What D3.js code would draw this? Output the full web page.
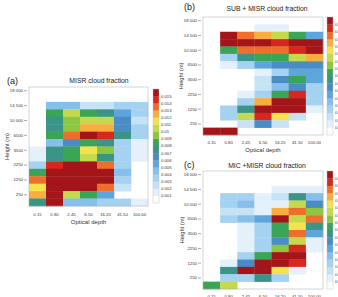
<!DOCTYPE html>
<head>
  <meta charset="utf-8">
  <script src="https://d3js.org/d3.v7.min.js"></script>
  <style>
    body { margin: 0; background: #fff; }
    svg { display: block; font-family: "Liberation Sans", Arial, sans-serif; }
    .tick text { fill: #333; }
    .tick line { stroke: #555; stroke-width: 0.5; }
  </style>
</head>
<body>
<div id="chart"></div>
<script>

  // optical depth bins (x) and height bins (y, every other bin is labelled)
  var tauLabels = ["0.15", "0.80", "2.45", "6.50", "16.20", "41.50", "100.00"];
  var heightRows = [1, 3, 5, 7, 9, 11, 13, 15];
  var heightLabels = ["250", "1250", "2250", "3500", "6500", "10 000", "14 500", "18 000"];

  // colour levels, cloud fraction in units of 1e-3
  var levels = [1, 2, 3, 4, 5, 6, 7, 8, 9, 10, 11, 12, 13, 14, 15];
  var cbLabelsA = ["0.001", "0.002", "0.003", "0.004", "0.005", "0.006", "0.007", "0.008",
                   "0.009", "0.01", "0.011", "0.012", "0.013", "0.014", "0.015"];
  var cbLabelsB = ["0.002", "0.004", "0.006", "0.008", "0.010", "0.012", "0.014", "0.016",
                   "0.018", "0.020", "0.022", "0.024", "0.026", "0.028", "0.030"];
  var cbLabelsC = ["0.001", "0.002", "0.003", "0.004", "0.005", "0.006", "0.007", "0.008",
                   "0.009", "0.010", "0.011", "0.012", "0.013", "0.014", "0.015"];
  var palette = ["#ffffff", "#e4f1fa", "#c6e3f6", "#a6d2f1", "#86bfeb", "#5fa5dd", "#4a8cc6", "#3a9488",
                 "#3aa556", "#8ec63f", "#c4da4c", "#f5e24c", "#f8ae3e", "#ee6e2c", "#d6281f", "#a31519"];

  // cloud fraction per cell (1e-3), rows from the top bin (18 000 m) down to the lowest
  var misrA = [
    [0, 0, 0, 0, 0, 0, 0],
    [0, 0, 0, 0, 0, 0, 0],
    [0, 4.5, 4.5, 2.5, 2.5, 3.5, 3.5],
    [0, 8.5, 10.5, 8.5, 7.5, 5.5, 3.5],
    [0, 7.5, 9.5, 10.5, 10.5, 6.5, 2.5],
    [0, 7.5, 9.5, 12.5, 12.5, 6.5, 3.5],
    [0, 8.5, 13.5, 15.5, 14.5, 7.5, 3.5],
    [0, 4.5, 6.5, 8.5, 7.5, 3.5, 1.5],
    [1.5, 7.5, 8.5, 11.5, 9.5, 3.5, 1.5],
    [1.5, 7.5, 8.5, 10.5, 7.5, 3.5, 1.5],
    [3.5, 14.5, 15.5, 15.5, 13.5, 3.5, 0],
    [8.5, 15.5, 15.5, 15.5, 15.5, 4.5, 0],
    [13.5, 15.5, 15.5, 15.5, 15.5, 3.5, 0],
    [11.5, 15.5, 15.5, 15.5, 13.5, 2.5, 0],
    [12.5, 15.5, 10.5, 8.5, 5.5, 0, 0],
    [7.5, 15.5, 4.5, 4.5, 3.5, 3.5, 1.5]
  ];
  var subB = [
    [0, 0, 0, 0, 0, 0, 0],
    [0, 0, 0, 1.5, 1.5, 0, 0],
    [0, 15.5, 13.5, 12.5, 10.5, 8.5, 5.5],
    [0, 15.5, 15.5, 15.5, 14.5, 15.5, 15.5],
    [0, 8.5, 13.5, 13.5, 13.5, 14.5, 15.5],
    [0, 3.5, 7.5, 8.5, 8.5, 10.5, 12.5],
    [0, 1.5, 3.5, 5.5, 6.5, 6.5, 6.5],
    [0, 0, 0, 1.5, 3.5, 5.5, 5.5],
    [0, 0, 0, 2.5, 6.5, 8.5, 5.5],
    [0, 0, 0, 2.5, 4.5, 6.5, 3.5],
    [0, 0, 1.5, 3.5, 8.5, 14.5, 3.5],
    [0, 0, 3.5, 12.5, 15.5, 15.5, 3.5],
    [0, 3.5, 7.5, 15.5, 15.5, 15.5, 1.5],
    [0, 3.5, 10.5, 14.5, 11.5, 2.5, 0],
    [0, 0, 2.5, 6.5, 2.5, 0, 0],
    [15.5, 15.5, 0, 0, 0, 0, 0]
  ];
  var micC = [
    [0, 0, 0, 0, 0, 0, 0],
    [0, 0, 0, 0, 0, 0, 0],
    [0, 0, 0, 0, 1.5, 1.5, 1.5],
    [0, 3.5, 3.5, 1.5, 2.5, 7.5, 4.5],
    [0, 3.5, 4.5, 1.5, 1.5, 10.5, 6.5],
    [0, 2.5, 2.5, 1.5, 12.5, 13.5, 9.5],
    [0, 3.5, 4.5, 5.5, 15.5, 10.5, 13.5],
    [0, 0, 1.5, 3.5, 8.5, 11.5, 7.5],
    [0, 0, 1.5, 3.5, 8.5, 13.5, 5.5],
    [0, 0, 1.5, 3.5, 6.5, 10.5, 1.5],
    [0, 0, 1.5, 3.5, 9.5, 14.5, 1.5],
    [0, 0, 3.5, 8.5, 15.5, 15.5, 0],
    [0, 1.5, 6.5, 15.5, 15.5, 14.5, 0],
    [0, 7.5, 15.5, 15.5, 11.5, 1.5, 0],
    [0, 3.5, 3.5, 7.5, 3.5, 0, 0],
    [8.5, 10.5, 0, 0, 0, 0, 0]
  ];

  var panels = [
    { tag: "(a)", title: "MISR cloud fraction", data: misrA, cbLabels: cbLabelsA,
      x0: 29, x1: 148, y0: 87, y1: 206, tagX: 7, tagY: 84, titleX: 99, titleY: 83,
      ylabX: 7, xlabY: 224, xPad: 6.5, cbX: 153, cbY0: 89, cbY1: 203 },
    { tag: "(b)", title: "SUB + MISR cloud fraction", data: subB, cbLabels: cbLabelsB,
      x0: 203, x1: 323, y0: 17, y1: 135, tagX: 184, tagY: 10, titleX: 267, titleY: 11,
      ylabX: 181, xlabY: 152, xPad: 5.5, cbX: 327, cbY0: 17, cbY1: 135 },
    { tag: "(c)", title: "MIC +MISR cloud fraction", data: micC, cbLabels: cbLabelsC,
      x0: 203, x1: 323, y0: 171, y1: 289, tagX: 184, tagY: 168, titleX: 267, titleY: 167.5,
      ylabX: 182, xlabY: 306, xPad: 5.5, cbX: 327, cbY0: 171, cbY1: 289 }
  ];

  var svg = d3.select("#chart")
    .append("svg")
    .attr("width", 338)
    .attr("height", 297);

  var color = d3.scaleThreshold()
    .domain(levels)
    .range(palette);

  function drawPanel(p) {
    var g = svg.append("g");

    var x = d3.scaleBand().domain(d3.range(7)).range([p.x0, p.x1]);
    var y = d3.scaleBand().domain(d3.range(16)).range([p.y1, p.y0]);

    // flatten the grid into cells
    var cells = [];
    p.data.forEach(function (row, i) {
      row.forEach(function (v, c) {
        cells.push({ col: c, row: 15 - i, value: v });
      });
    });

    g.selectAll("rect.cell")
      .data(cells.filter(function (d) { return d.value > 0; }))
      .enter()
      .append("rect")
      .attr("class", "cell")
      .attr("x", function (d) { return x(d.col); })
      .attr("y", function (d) { return y(d.row); })
      .attr("width", x.bandwidth() + 0.3)
      .attr("height", y.bandwidth() + 0.3)
      .attr("fill", function (d) { return color(d.value); });

    // frame
    g.append("rect")
      .attr("x", p.x0).attr("y", p.y0)
      .attr("width", p.x1 - p.x0).attr("height", p.y1 - p.y0)
      .attr("fill", "none").attr("stroke", "#aaa").attr("stroke-width", 0.5);

    // y axis
    var yAxis = g.append("g")
      .attr("transform", "translate(" + (p.x0 - 2) + ",0)")
      .call(d3.axisLeft(y)
        .tickValues(heightRows)
        .tickFormat(function (d, i) { return heightLabels[i]; })
        .tickSize(3)
        .tickPadding(1));
    yAxis.select(".domain").remove();
    yAxis.selectAll("text").style("font-size", "4.3px");

    // x axis
    var xAxis = g.append("g")
      .attr("transform", "translate(0," + p.y1 + ")")
      .call(d3.axisBottom(x)
        .tickFormat(function (d) { return tauLabels[d]; })
        .tickSize(0)
        .tickPadding(p.xPad));
    xAxis.select(".domain").remove();
    xAxis.selectAll("text").style("font-size", "4.3px");

    // titles
    g.append("text")
      .attr("x", p.tagX).attr("y", p.tagY)
      .style("font-size", "9px").style("fill", "#222")
      .text(p.tag);
    g.append("text")
      .attr("x", p.titleX).attr("y", p.titleY)
      .attr("text-anchor", "middle")
      .style("font-size", "6.8px").style("fill", "#222")
      .text(p.title);
    g.append("text")
      .attr("transform", "translate(" + p.ylabX + "," + ((p.y0 + p.y1) / 2) + ") rotate(-90)")
      .attr("text-anchor", "middle")
      .attr("dy", "0.35em")
      .style("font-size", "5.8px").style("fill", "#333")
      .text("Height (m)");
    g.append("text")
      .attr("x", (p.x0 + p.x1) / 2).attr("y", p.xlabY)
      .attr("text-anchor", "middle")
      .style("font-size", "6px").style("fill", "#333")
      .text("Optical depth");

    // colour bar
    var cb = d3.scaleBand().domain(d3.range(palette.length)).range([p.cbY1, p.cbY0]);
    var cbEdge = d3.scaleLinear().domain([0, palette.length]).range([p.cbY1, p.cbY0]);
    g.selectAll("rect.cb")
      .data(palette)
      .enter()
      .append("rect")
      .attr("class", "cb")
      .attr("x", p.cbX)
      .attr("y", function (d, i) { return cb(i); })
      .attr("width", 6)
      .attr("height", cb.bandwidth() + 0.2)
      .attr("fill", function (d) { return d; });
    g.append("rect")
      .attr("x", p.cbX).attr("y", p.cbY0)
      .attr("width", 6).attr("height", p.cbY1 - p.cbY0)
      .attr("fill", "none").attr("stroke", "#bbb").attr("stroke-width", 0.4);
    g.selectAll("text.cbl")
      .data(p.cbLabels)
      .enter()
      .append("text")
      .attr("class", "cbl")
      .attr("x", p.cbX + 8)
      .attr("y", function (d, i) { return cbEdge(i + 1); })
      .attr("dy", "0.35em")
      .style("font-size", "4.2px").style("fill", "#333")
      .text(function (d) { return d; });
  }

  panels.forEach(drawPanel);

</script>
</body>
